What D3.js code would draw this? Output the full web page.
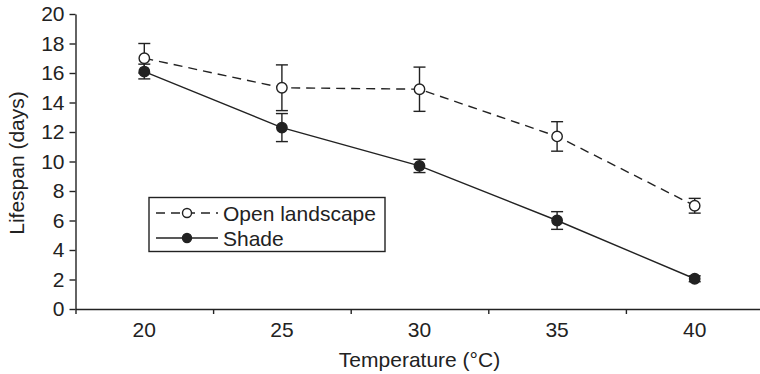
<!DOCTYPE html>
<html>
<head>
<meta charset="utf-8">
<script src="https://cdn.jsdelivr.net/npm/d3@7"></script>
<style>
  body { margin: 0; background: #fff; }
  text { font-family: "Liberation Sans", Arial, sans-serif; fill: #222; }
</style>
</head>
<body>
<div id="chart"></div>
<script>
// temperatures (°C)
const temps = [20, 25, 30, 35, 40];

// lifespan means and error (days)
const openMean = [17.0, 15.0, 14.9, 11.7, 7.0];
const openErr = [1.0, 1.55, 1.5, 1.0, 0.5];
const shadeMean = [16.1, 12.3, 9.7, 6.0, 2.05];
const shadeErr = [0.5, 0.95, 0.45, 0.6, 0.2];

const yTicks = [0, 2, 4, 6, 8, 10, 12, 14, 16, 18, 20];

const width = 760, height = 374;
const ink = "#222";
const fs = 21;

const svg = d3.select("#chart")
    .append("svg")
    .attr("width", width)
    .attr("height", height);

// x: each temperature sits in the middle of a 5-unit slot
const x = d3.scaleLinear().domain([17.5, 42.5]).range([75.5, 763.5]);
const y = d3.scaleLinear().domain([0, 20]).range([309, 14]);

// y axis
const yAxis = svg.append("g")
    .attr("transform", "translate(75.5,0)")
    .call(d3.axisLeft(y).tickValues(yTicks).tickSize(6).tickPadding(5).tickSizeOuter(0));
yAxis.select(".domain").attr("stroke", ink).attr("stroke-width", 1.4);
yAxis.selectAll(".tick line").attr("stroke", ink).attr("stroke-width", 1.4);
yAxis.selectAll(".tick text").attr("font-size", fs).attr("fill", ink)
    .style("font-family", "'Liberation Sans', Arial, sans-serif");

// x axis, ticks fall between the categories
const bounds = [17.5, 22.5, 27.5, 32.5, 37.5, 42.5];
const xAxis = svg.append("g")
    .attr("transform", "translate(0,309)")
    .call(d3.axisBottom(x).tickValues(bounds).tickSize(5).tickFormat("").tickSizeOuter(0));
xAxis.select(".domain").attr("stroke", ink).attr("stroke-width", 1.4);
xAxis.selectAll(".tick line").attr("stroke", ink).attr("stroke-width", 1.4);

svg.append("g")
    .selectAll("text")
    .data(temps)
    .enter()
    .append("text")
    .attr("x", d => x(d))
    .attr("y", 337)
    .attr("text-anchor", "middle")
    .attr("font-size", fs)
    .text(d => d);

// axis titles
svg.append("text")
    .attr("x", x(30))
    .attr("y", 366.5)
    .attr("text-anchor", "middle")
    .attr("font-size", fs)
    .text("Temperature (°C)");

svg.append("text")
    .attr("transform", "translate(24,163) rotate(-90)")
    .attr("text-anchor", "middle")
    .attr("font-size", fs)
    .text("Lifespan (days)");

// series
const series = [
    { name: "Open landscape", mean: openMean, err: openErr, fill: "#fff", dash: "9,6" },
    { name: "Shade", mean: shadeMean, err: shadeErr, fill: ink, dash: null }
];

const line = d3.line()
    .x(d => x(d.t))
    .y(d => y(d.v));

series.forEach(s => {
    const pts = temps.map((t, i) => ({ t: t, v: s.mean[i], e: s.err[i] }));

    svg.append("path")
        .datum(pts)
        .attr("d", line)
        .attr("fill", "none")
        .attr("stroke", ink)
        .attr("stroke-width", 1.4)
        .attr("stroke-dasharray", s.dash);

    const eb = svg.append("g")
        .selectAll("g")
        .data(pts)
        .enter()
        .append("g")
        .attr("stroke", ink)
        .attr("stroke-width", 1.4);

    eb.append("line")
        .attr("x1", d => x(d.t)).attr("x2", d => x(d.t))
        .attr("y1", d => y(d.v - d.e)).attr("y2", d => y(d.v + d.e));
    eb.append("line")
        .attr("x1", d => x(d.t) - 6).attr("x2", d => x(d.t) + 6)
        .attr("y1", d => y(d.v + d.e)).attr("y2", d => y(d.v + d.e));
    eb.append("line")
        .attr("x1", d => x(d.t) - 6).attr("x2", d => x(d.t) + 6)
        .attr("y1", d => y(d.v - d.e)).attr("y2", d => y(d.v - d.e));

    svg.append("g")
        .selectAll("circle")
        .data(pts)
        .enter()
        .append("circle")
        .attr("cx", d => x(d.t))
        .attr("cy", d => y(d.v))
        .attr("r", 5.2)
        .attr("fill", s.fill)
        .attr("stroke", ink)
        .attr("stroke-width", 1.4);
});

// legend
const legend = svg.append("g").attr("transform", "translate(149,197.5)");
legend.append("rect")
    .attr("width", 236)
    .attr("height", 54)
    .attr("fill", "#fff")
    .attr("stroke", ink)
    .attr("stroke-width", 1.4);

series.forEach((s, i) => {
    const ly = 15.5 + i * 25;
    legend.append("line")
        .attr("x1", 7).attr("x2", 69)
        .attr("y1", ly).attr("y2", ly)
        .attr("stroke", ink)
        .attr("stroke-width", 1.4)
        .attr("stroke-dasharray", s.dash ? "9,6" : null);
    legend.append("circle")
        .attr("cx", 38).attr("cy", ly)
        .attr("r", 4.5)
        .attr("fill", s.fill)
        .attr("stroke", ink)
        .attr("stroke-width", 1.4);
    legend.append("text")
        .attr("x", 74)
        .attr("y", ly + 7.5)
        .attr("font-size", fs)
        .text(s.name);
});
</script>
</body>
</html>
